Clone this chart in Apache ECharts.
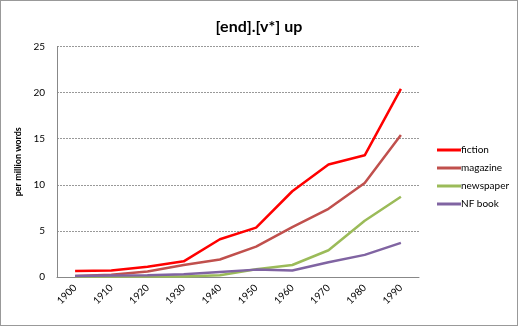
<!DOCTYPE html>
<html><head><meta charset="utf-8">
<script src="https://cdn.jsdelivr.net/npm/echarts@6/dist/echarts.min.js"></script>
<style>html,body{margin:0;padding:0;background:#fff}#c{width:518px;height:326px;box-sizing:border-box;border:1px solid #999}</style>
</head><body><div id="c"></div>
<script>
var years = ['1900','1910','1920','1930','1940','1950','1960','1970','1980','1990'];
var fiction = [0.65, 0.7, 1.1, 1.7, 4.1, 5.35, 9.3, 12.2, 13.2, 20.4];
var magazine = [0.1, 0.25, 0.6, 1.3, 1.9, 3.3, 5.4, 7.4, 10.2, 15.4];
var newspaper = [0.05, 0.05, 0.05, 0.05, 0.2, 0.85, 1.3, 2.9, 6.1, 8.7];
var nfbook = [0.1, 0.15, 0.2, 0.3, 0.55, 0.8, 0.7, 1.6, 2.4, 3.7];
var names = ['fiction','magazine','newspaper','NF book'];
var colors = ['#FF0000','#C0504D','#9BBB59','#8064A2'];
var data = [fiction, magazine, newspaper, nfbook];
var chart = echarts.init(document.getElementById('c'));
chart.setOption({
  animation:false,
  textStyle:{fontFamily:'Lato'},
  title:{text:'[end].[v*] up',left:'center',top:13,textStyle:{fontSize:16,fontWeight:'bold',color:'#000',fontFamily:'Lato'}},
  legend:{orient:'vertical',left:431,top:139,itemWidth:24,itemHeight:3,itemGap:8,icon:'rect',
    textStyle:{fontSize:10,color:'#000',padding:[0,0,0,-5]},data:names},
  grid:{left:56,top:45.5,width:362,height:230.5},
  xAxis:{type:'category',data:years,boundaryGap:true,
    axisLine:{lineStyle:{color:'#888'}},axisTick:{show:false},
    axisLabel:{rotate:45,fontSize:10,color:'#000',margin:9}},
  yAxis:{type:'value',min:0,max:25,interval:5,name:'per million words',nameLocation:'middle',nameGap:27,
    nameTextStyle:{fontSize:9,fontWeight:'bold',color:'#000'},
    axisLine:{show:true,lineStyle:{color:'#888'}},axisTick:{show:false},
    axisLabel:{fontSize:10,color:'#000',margin:12},
    splitLine:{lineStyle:{color:'#999',type:[2,1]}}},
  series:data.map(function(d,i){return {name:names[i],type:'line',data:d,symbol:'none',
    lineStyle:{color:colors[i],width:2.5},itemStyle:{color:colors[i]}};})
});
</script></body></html>
